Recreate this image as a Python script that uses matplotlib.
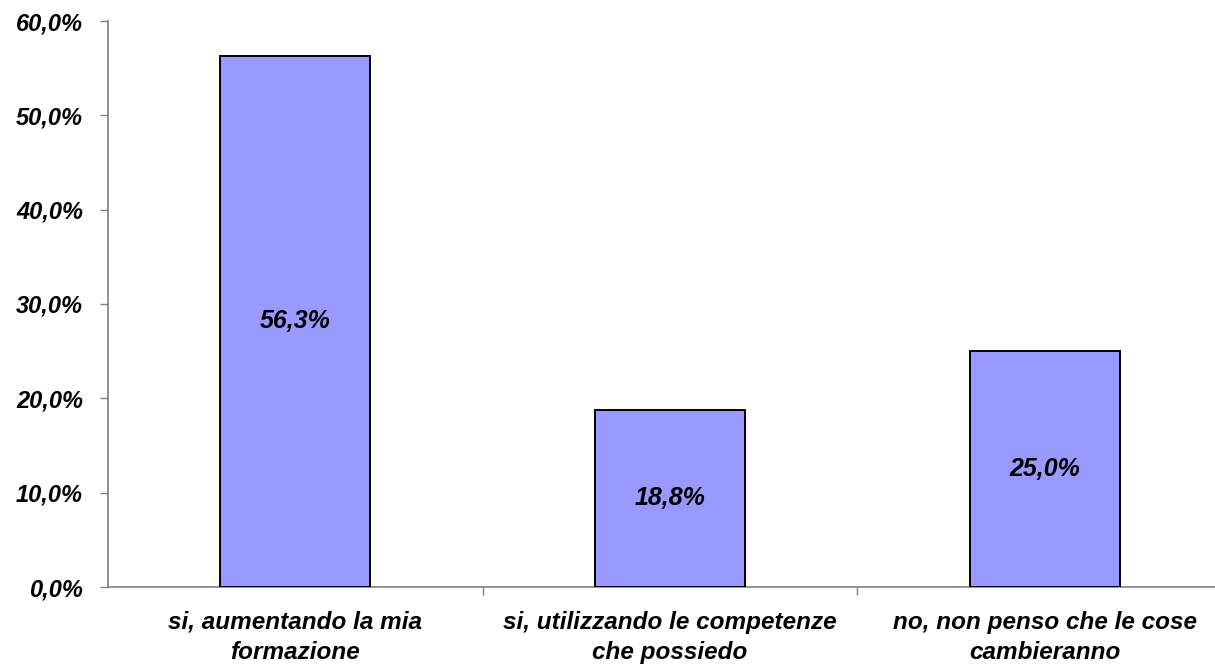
import matplotlib
matplotlib.use("Agg")
import matplotlib.pyplot as plt

# Survey answers and their shares (percent)
categories = ["si, aumentando la mia\nformazione",
              "si, utilizzando le competenze\nche possiedo",
              "no, non penso che le cose\ncambieranno"]
values = [56.3, 18.8, 25.0]
y_ticks = [0, 10, 20, 30, 40, 50, 60]

plt.rcParams["font.family"] = ["Liberation Sans", "DejaVu Sans"]

W, H = 1215, 669
fig = plt.figure(figsize=(W / 100, H / 100), dpi=100)
# plot area: left spine at x=108, top at y=21, baseline at y=587; the
# category band runs past the right edge of the canvas
left, right, top, bottom = 108, 1232, 21, 587
ax = fig.add_axes([left / W, 1 - bottom / H, (right - left) / W, (bottom - top) / H])

x = range(len(categories))
bars = ax.bar(x, values, width=0.4, color="#9999FF", edgecolor="black",
              linewidth=1.4, zorder=3)

for xi, v in zip(x, values):
    ax.text(xi, v / 2, f"{v:.1f}%".replace(".", ","), ha="center", va="center",
            fontsize=18, fontweight="bold", fontstyle="italic", zorder=4)

ax.set_xlim(-0.5, len(categories) - 0.5)
ax.set_ylim(0, 60)
ax.set_yticks(y_ticks)
ax.set_yticklabels([f"{t:.1f}%".replace(".", ",") for t in y_ticks],
                   fontsize=17, fontweight="bold", fontstyle="italic")

# category labels centred under bars, tick marks between categories
ax.set_xticks(list(x))
ax.set_xticklabels(categories, fontsize=17.5, fontweight="bold",
                   fontstyle="italic", linespacing=1.42)
ax.tick_params(axis="x", length=0, pad=17)
ax.set_xticks([0.5, 1.5], minor=True)
ax.tick_params(axis="x", which="minor", length=6, width=1, color="#808080",
               direction="out")
ax.tick_params(axis="y", length=6, width=1, color="#808080", pad=12,
               direction="out")

for side in ("top", "right"):
    ax.spines[side].set_visible(False)
for side in ("left", "bottom"):
    ax.spines[side].set_color("#808080")
    ax.spines[side].set_linewidth(1.2)

fig.savefig("out.png", dpi=100)
